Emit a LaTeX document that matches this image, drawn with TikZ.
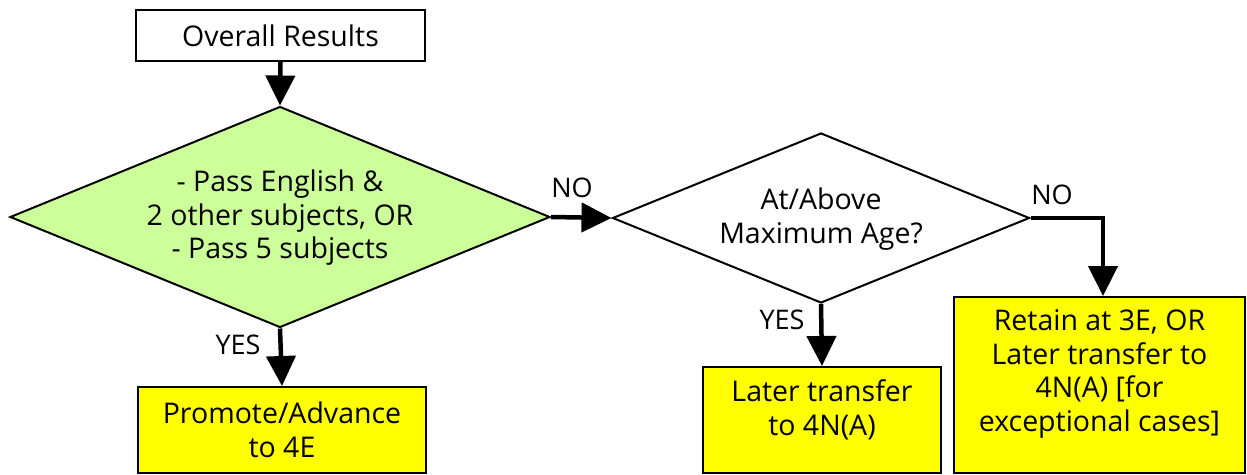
\documentclass[tikz,border=0pt]{standalone}
\usepackage{fontspec}
\setmainfont{Open Sans}
\usetikzlibrary{shapes.geometric,arrows.meta}
\definecolor{dgreen}{HTML}{CCFF99}
\definecolor{byellow}{HTML}{FFFF00}
\begin{document}
\begin{tikzpicture}[x=1pt,y=-1pt,
  every node/.style={font=\fontsize{28.5}{33.5}\selectfont, align=center, inner sep=0pt},
  box/.style={draw=black, line width=2pt, rectangle},
  decision/.style={draw=black, line width=2pt, diamond},
  flow/.style={line width=4.5pt, -{Triangle[length=30pt,width=29pt]}},
  lbl/.style={font=\fontsize{27}{30}\selectfont}]
\useasboundingbox (0,0) rectangle (1247,474);
\node[box, fill=white, minimum width=289, minimum height=51] (top) at (280.5,35.5) {Overall Results};
\node[decision, fill=dgreen, minimum width=540, minimum height=221] (d1) at (280,217) {};
\node (d1t) at (280,218) {- Pass English \&\\2 other subjects, OR\\- Pass 5 subjects};
\node[decision, fill=white, minimum width=417, minimum height=170] (d2) at (821,218) {};
\node (d2t) at (821,219) {At/Above\\Maximum Age?};
\node[box, fill=byellow, minimum width=288, minimum height=86] (promote) at (282,430) {Promote/Advance\\to 4E};
\node[box, fill=byellow, minimum width=238, minimum height=106] (later) at (822,420) {};
\node (latert) at (822,410) {Later transfer\\to 4N(A)};
\node[box, fill=byellow, minimum width=291, minimum height=176] (retain) at (1099.5,385) {};
\node (retaint) at (1099.5,374) {Retain at 3E, OR\\Later transfer to\\4N(A) [for\\exceptional cases]};
\draw[flow] (top.south) -- (d1.north);
\draw[flow] (d1.east) -- (d2.west);
\draw[flow] (d1.south) -- (promote.north);
\draw[flow] (d2.south) -- (later.north);
\coordinate (corner) at (1103,218);
\draw[flow] (d2.east) -- (corner) -- (corner |- retain.north);
\node[lbl] (no1) at (572,188) {NO};
\node[lbl] (no2) at (1052,195) {NO};
\node[lbl] (yes1) at (238,345) {YES};
\node[lbl] (yes2) at (782,320) {YES};
\end{tikzpicture}
\end{document}
